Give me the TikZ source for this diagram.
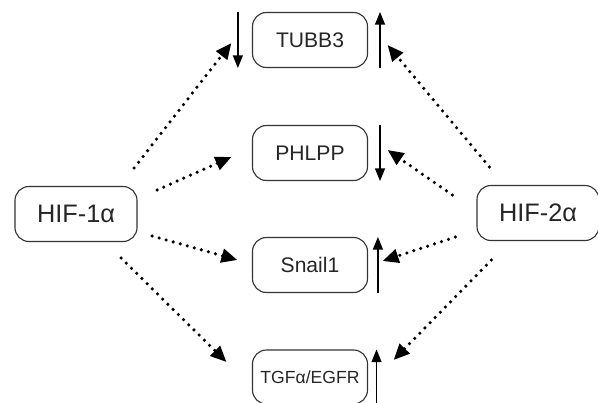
\documentclass[tikz,border=0pt]{standalone}
\usepackage{fontspec}
\setmainfont{Liberation Sans}
\usetikzlibrary{arrows.meta}

\begin{document}
\begin{tikzpicture}[x=0.025cm, y=-0.025cm,
  gene/.style={draw=black!80, line width=0.8pt, rounded corners=0.35cm, minimum width=2.875cm, minimum height=1.375cm, align=center, text=black!85, font=\fontsize{15}{17}\selectfont},
  hif/.style={gene, minimum width=3.05cm, font=\fontsize{18}{20}\selectfont},
  dots/.style={line width=2.5pt, line cap=round, dash pattern=on 0pt off 5.2pt, -{Triangle[length=0.4cm, width=0.34cm]}},
  chg/.style={line width=1.1pt, -{Triangle[length=0.32cm, width=0.25cm]}}
]
\useasboundingbox (0,0) rectangle (598,402);
\node[hif] (hifa) at (76,214) {HIF-1α};
\node[hif] (hifb) at (538,213) {HIF-2α};
\node[gene] (tubb) at (310,40) {TUBB3};
\node[gene] (phlpp) at (310,153) {PHLPP};
\node[gene] (snail) at (310,265) {Snail1};
\node[gene, minimum height=1.35cm, font=\fontsize{12.5}{14}\selectfont] (tgf) at (310,377) {TGFα/EGFR};

% HIF-1a
\draw[dots] ([shift={(-3.5,-46)}]hifa.east) -- ([shift={(-20.5,3)}]tubb.west);
\draw[dots] ([shift={(19.5,-24)}]hifa.east) -- ([shift={(-20.5,4)}]phlpp.west);
\draw[dots] ([shift={(14.5,22)}]hifa.east) -- ([shift={(-14.5,-5)}]snail.west);
\draw[dots] ([shift={(-16.5,44)}]hifa.east) -- ([shift={(-25.5,-15)}]tgf.west);

% HIF-2a
\draw[dots] ([shift={(13,-46)}]hifb.west) -- ([shift={(19.5,5)}]tubb.east);
\draw[dots] ([shift={(-24,-18)}]hifb.west) -- ([shift={(19.5,-3)}]phlpp.east);
\draw[dots] ([shift={(-21,24)}]hifb.west) -- ([shift={(14.5,-4)}]snail.east);
\draw[dots] ([shift={(15,47)}]hifb.west) -- ([shift={(25.5,-17)}]tgf.east);

% up / down
\draw[chg] ([xshift=-10]tubb.north west) -- ([xshift=-10]tubb.south west);
\draw[chg] ([xshift=8.5]tubb.south east) -- ([xshift=8.5]tubb.north east);
\draw[chg] ([xshift=8.5]phlpp.north east) -- ([xshift=8.5]phlpp.south east);
\draw[chg] ([xshift=7]snail.south east) -- ([xshift=7]snail.north east);
\draw[chg] ([xshift=6]tgf.south east) -- ([xshift=6]tgf.north east);
\end{tikzpicture}
\end{document}
